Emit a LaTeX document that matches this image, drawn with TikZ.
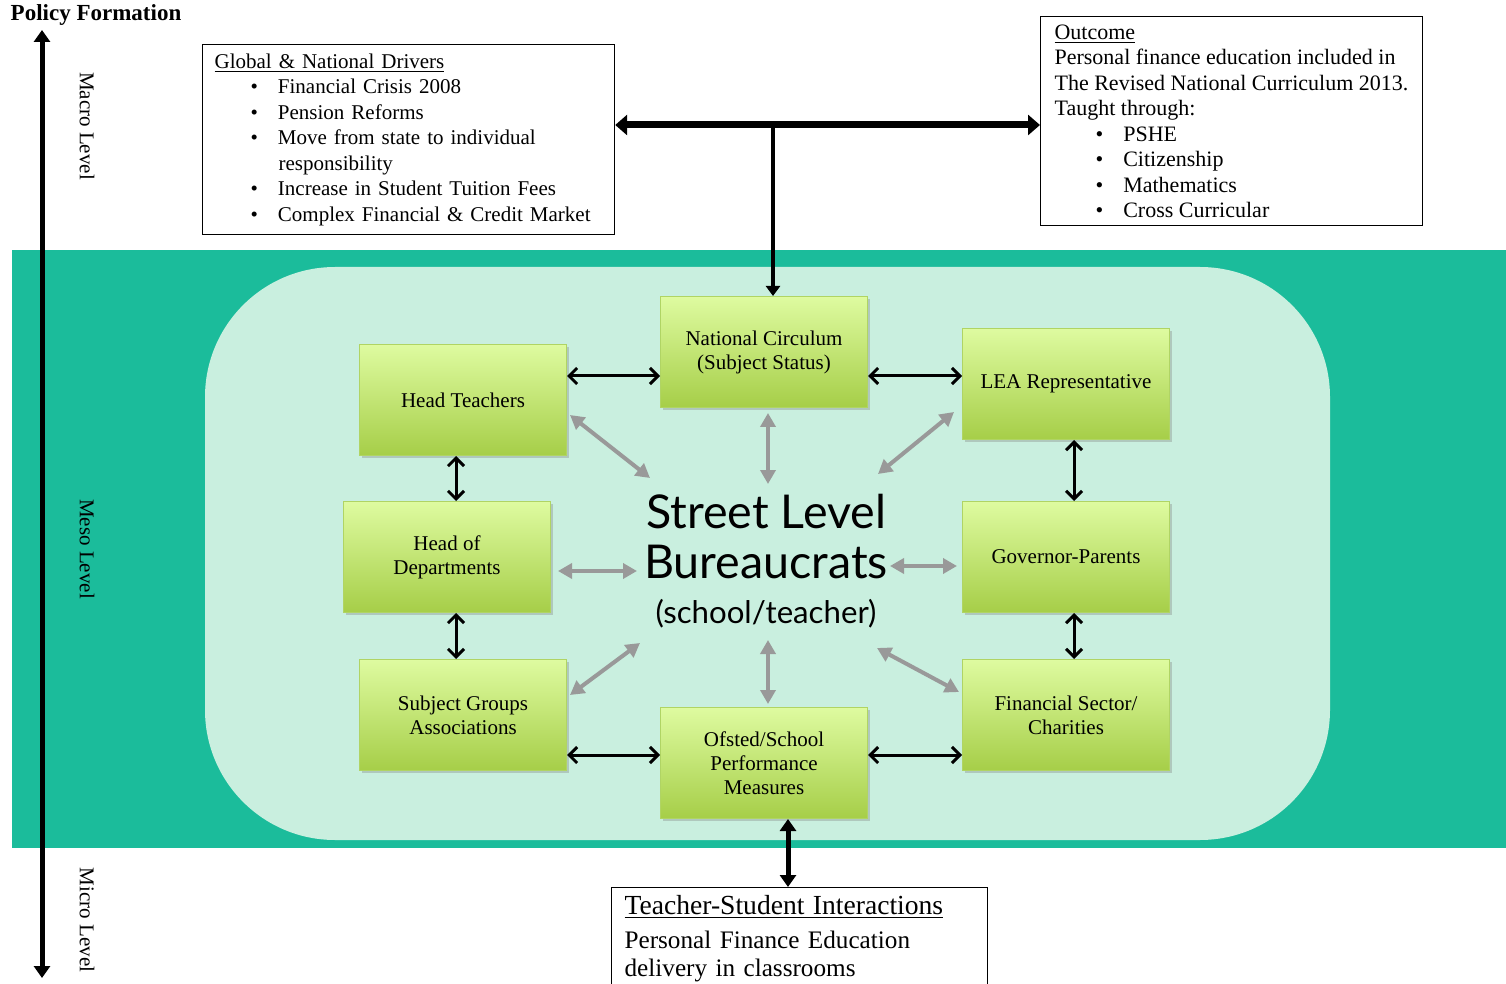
\documentclass[tikz,border=0pt]{standalone}
\usepackage{fontspec}
\setmainfont{Liberation Serif}
\newfontfamily\slfont{Lato}
\usetikzlibrary{arrows.meta,positioning,shadows}

\definecolor{bandteal}{RGB}{27,188,155}
\definecolor{paleteal}{RGB}{201,239,223}
\definecolor{boxtop}{RGB}{222,251,160}
\definecolor{boxbot}{RGB}{166,206,72}
\definecolor{boxedge}{RGB}{176,212,100}
\definecolor{linkgray}{RGB}{153,153,153}

\newcommand{\bulletline}[2]{\hspace*{#1}\textbullet\hspace{10pt}#2}

\tikzset{
  actor/.style={rectangle, draw=boxedge, line width=0.5pt, top color=boxtop, bottom color=boxbot,
    minimum width=103.5pt, minimum height=55.5pt, align=center, font=\fontsize{10.5}{12}\selectfont,
    drop shadow={shadow xshift=1pt, shadow yshift=-1.2pt, opacity=0.35}},
  infobox/.style={rectangle, draw, line width=0.6pt, fill=white, align=left, anchor=north west,
    font=\fontsize{11}{12.75}\selectfont},
  levelname/.style={rotate=-90, font=\fontsize{10.5}{12}\selectfont},
  link/.style={line width=1.5pt, {Straight Barb[length=4pt,width=8pt]}-{Straight Barb[length=4pt,width=8pt]}},
  spoke/.style={draw=linkgray, line width=2pt, {Triangle[length=7pt,width=7.5pt]}-{Triangle[length=7pt,width=7.5pt]}},
  heavy/.style={line width=3.5pt, {Triangle[length=6pt,width=10pt]}-{Triangle[length=6pt,width=10pt]}}
}

\begin{document}
\begin{tikzpicture}[x=0.5pt,y=-0.5pt]
\useasboundingbox (0,0) rectangle (1506,984);

% meso band
\fill[bandteal] (12,250) rectangle (1506,848);
\fill[paleteal, rounded corners=65pt] (205,267) rectangle (1330,840);

% level axis
\node[font=\bfseries\fontsize{11.5}{13}\selectfont] (pf) at (96,15) {Policy Formation};
\coordinate (axtop) at (42,30);
\coordinate (axbot) at (42,978);
\draw[line width=2.5pt, {Triangle[length=6pt,width=8pt]}-{Triangle[length=6pt,width=8pt]}] (axtop) -- (axbot);
\node[levelname] (macro) at (87,126) {Macro Level};
\node[levelname] (meso) at (87,549) {Meso Level};
\node[levelname] (micro) at (87,920) {Micro Level};

% macro boxes
\node[infobox, text width=194pt, inner xsep=6pt, inner ysep=4.5pt, font=\fontsize{10.5}{12.75}\selectfont] (drv) at (202,44) {\noindent\underline{Global \& National Drivers}\\
\bulletline{18pt}{Financial Crisis 2008}\\
\bulletline{18pt}{Pension Reforms}\\
\bulletline{18pt}{Move from state to individual}\\
\hspace*{32pt}responsibility\\
\bulletline{18pt}{Increase in Student Tuition Fees}\\
\bulletline{18pt}{Complex Financial \& Credit Market}};
\node[infobox, inner xsep=7pt, inner ysep=4pt] (out) at (1040,16) {\underline{Outcome}\\
Personal finance education included in\\
The Revised National Curriculum 2013.\\
Taught through:\\
\bulletline{20.5pt}{PSHE}\\
\bulletline{20.5pt}{Citizenship}\\
\bulletline{20.5pt}{Mathematics}\\
\bulletline{20.5pt}{Cross Curricular}};

% actors
\node[actor] (ht) at (463,400) {Head Teachers};
\node[actor] (nc) at (764,352) {National Circulum\\(Subject Status)};
\node[actor] (lea) at (1066,384) {LEA Representative};
\node[actor] (hod) at (447,557) {Head of\\Departments};
\node[actor] (gp) at (1066,557) {Governor-Parents};
\node[actor] (sg) at (463,715) {Subject Groups\\Associations};
\node[actor] (of) at (764,763) {Ofsted/School\\Performance\\Measures};
\node[actor] (fs) at (1066,715) {Financial Sector/\\Charities};

\node[font=\slfont\fontsize{23.3}{25}\selectfont, align=center] (sl) at (766,537) {Street Level\\Bureaucrats};
\node[font=\slfont\fontsize{15.6}{18}\selectfont] (slsub) at (766,614) {(school/teacher)};

% micro box
\node[infobox, text width=175pt, inner xsep=6.5pt, inner ysep=4pt, font=\fontsize{12.6}{14}\selectfont] (tsi) at (611,887)
  {\noindent{\fontsize{13.8}{17}\selectfont\underline{Teacher-Student Interactions}}\\[3pt]
   Personal Finance Education\\ delivery in classrooms\par\vspace{12pt}};

% policy to national curriculum
\coordinate (jn) at (773,125);
\draw[heavy] (drv.east |- jn) -- (out.west |- jn);
\draw[line width=2pt, -{Triangle[length=5pt,width=7pt]}] (jn) -- (nc.north -| jn);

% links between actors
\draw[link] ([yshift=12pt]ht.east) -- ([yshift=-12pt]nc.west);
\draw[link] ([yshift=-12pt]nc.east) -- ([yshift=4pt]lea.west);
\draw[link] ([xshift=-3.5pt]ht.south) -- ([xshift=4.5pt]hod.north);
\draw[link] ([xshift=4.5pt]hod.south) -- ([xshift=-3.5pt]sg.north);
\draw[link] ([xshift=4pt]lea.south) -- ([xshift=4pt]gp.north);
\draw[link] ([xshift=4pt]gp.south) -- ([xshift=4pt]fs.north);
\draw[link] ([yshift=-20pt]sg.east) -- ([yshift=4pt]of.west);
\draw[link] ([yshift=4pt]of.east) -- ([yshift=-20pt]fs.west);

% spokes to the street level bureaucrats
\coordinate (g1) at (650,478);
\coordinate (g2) at (768,484);
\coordinate (g3) at (878,474);
\coordinate (g4) at (637,571);
\coordinate (g5) at (890,566);
\coordinate (g6) at (640,643);
\coordinate (g7) at (768,640);
\coordinate (g8) at (877,648);
\draw[spoke] ([shift={(3,15)}]ht.east) -- (g1);
\draw[spoke] ([shift={(4,5)}]nc.south) -- (g2);
\draw[spoke] ([shift={(-8,28)}]lea.west) -- (g3);
\draw[spoke] ([shift={(7,14)}]hod.east) -- (g4);
\draw[spoke] ([shift={(-5,9)}]gp.west) -- (g5);
\draw[spoke] ([shift={(3,-20)}]sg.east) -- (g6);
\draw[spoke] ([shift={(4,-3)}]of.north) -- (g7);
\draw[spoke] ([shift={(-3,-23)}]fs.west) -- (g8);

% down to the classroom
\coordinate (ofb) at ([xshift=12pt]of.south);
\draw[line width=2.5pt, {Triangle[length=6pt,width=8pt]}-{Triangle[length=6pt,width=8pt]}] (ofb) -- (ofb |- tsi.north);
\end{tikzpicture}
\end{document}
